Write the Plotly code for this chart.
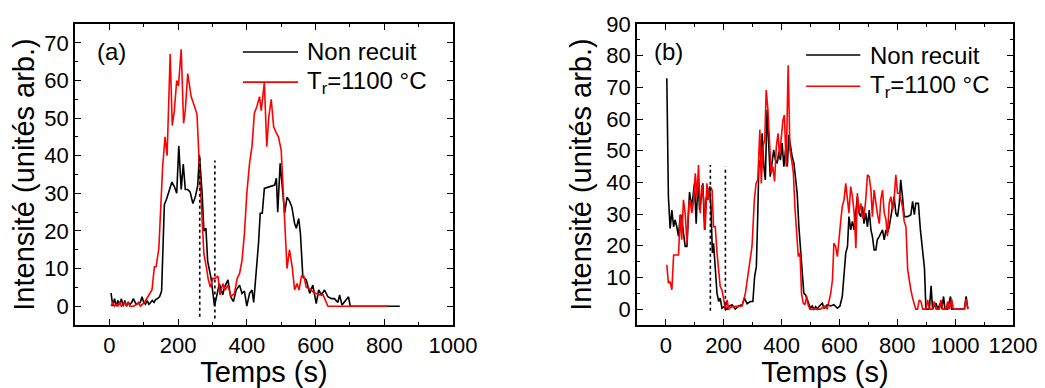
import plotly.graph_objects as go
from plotly.subplots import make_subplots

# ---------------- Data ----------------
# Panel (a): (temps [s], intensité [u.a.])
a_non_recuit = [(5,3.5),(10,0),(15,2),(20,0),(25,1.5),(30,0.5),(35,2),(40,0),(45,1.5),(50,0),
    (55,1),(60,0.5),(65,1),(70,2),(75,1),(80,0.5),(90,1),(95,2.5),(100,1),(105,0.5),(110,1.5),
    (115,0.5),(120,1),(125,1.5),(130,1),(135,1.8),(140,2),(146,2.5),(152,4),(160,27),(167,28.6),
    (182,33),(189,31.8),(196,30),(202,42.6),(209,31),(215,37.8),(221,31),(228,31),(235,30.4),
    (243,27.3),(250,29),(257,32),(262,40.2),(270,30),(275,20),(281,20.7),(286,12),(296,7.4),
    (306,0),(314,3.4),(320,6),(330,3),(335,5),(345,7),(353,2.5),(361,1.2),(369,4.3),(379,5.6),
    (386,3.4),(393,4),(400,0),(408,3.4),(415,4.3),(420,1),(427,7.8),(434,16.7),(439,24.7),
    (445,24.7),(451,31.3),(461,31.6),(471,31.8),(481,32.2),(486,34),(490,25),(497,38),(503,31.8),
    (510,24.7),(517,29),(524,28),(531,26.4),(539,22),(544,20.7),(551,23.3),(556,19.3),(563,7.8),
    (573,7),(583,3.4),(592,5.6),(602,0.7),(609,4.3),(617,3),(626,4.3),(636,2.5),(646,2),(655,2),
    (665,1),(670,3),(677,0.3),(685,1.2),(696,2.5),(701,0),(845,0)]

a_recuit_1100 = [(5,0),(10,1),(15,0),(20,0.5),(25,0),(30,1),(35,0),(40,0.5),(45,1),(50,0),(55,1),
    (60,0),(70,0),(80,0.5),(85,1),(90,0),(95,0.5),(102,1),(112,2.5),(118,3.4),(124,4.3),(131,10.5),
    (136,10.5),(144,15.4),(150,26.4),(155,37),(162,45),(168,40),(177,67),(183,48),(189,52),(196,60),
    (201,58.5),(209,68.3),(216,48.6),(221,52),(228,61.8),(238,55.7),(248,53),(255,51),(262,37),
    (267,28),(275,14),(282,10.5),(288,7),(294,5),(301,7.4),(308,7.4),(316,8),(322,3),(330,6),
    (337,4.3),(345,5.6),(354,2.5),(364,3.4),(372,7.4),(379,8.7),(386,12.2),(393,19.3),(400,30),
    (408,38),(415,42.4),(422,51.3),(429,53),(437,55.7),(442,52),(447,55.7),(451,59.5),(458,42.4),
    (464,50.4),(471,55),(478,47.7),(486,46),(492,45),(500,41.5),(510,23.8),(517,10),(524,15),
    (532,10.5),(539,4.3),(546,6),(552,4.3),(559,8),(566,8),(573,5),(583,4.7),(592,3.8),(602,3.4),
    (612,3),(622,3),(631,1),(636,0),(811,0)]

# Panel (b)
b_non_recuit = [(3.5,72.9),(9,35.5),(15,25.5),(21,31.3),(27,26),(32,28.2),(38,26),(44,23),(50,29.8),
    (55,29.2),(61,24),(67,19.8),(73,19.8),(82,37),(88,32.4),(94,35.5),(99,39.7),(105,27),(111,40.3),
    (117,31.3),(123,35.5),(128,39.7),(134,25),(140,35.5),(146,34.5),(151,38.7),(156,32.4),(161,17.7),
    (165,20.8),(171,11.4),(177,5),(183,2.4),(188,3.5),(194,0.3),(202,0.8),(212,0),(217,0.8),
    (229,1.4),(240,0),(252,1),(264,1.4),(272,3.5),(281,1.7),(292,2.4),(301,2.4),(307,10.3),
    (313,13.5),(318,30.3),(322,47),(327,45),(333,55.5),(339,45),(344,40.8),(350,62.9),(356,48),
    (361,41.8),(367,46),(373,50.3),(379,47),(385,46),(391,49.7),(396,47),(402,52.4),(408,45),
    (414,50.3),(420,45),(425,55),(431,51.3),(437,48),(443,46),(449,40.8),(454,36.6),(460,26),
    (466,17.7),(472,11.4),(477,5),(483,4.5),(489,2.9),(495,1.4),(500,0.3),(506,1),(512,0),
    (518,0.8),(524,0),(529,0.8),(541,1.9),(547,0.3),(558,1.4),(570,1),(581,1.4),(593,0.3),
    (602,1),(610,4),(616,11.4),(622,17.7),(628,19.8),(633,29.2),(639,25),(645,27.7),(651,25),
    (657,30.3),(662,35.5),(668,30.3),(674,29.2),(680,32.4),(685,27),(691,30.3),(697,26),
    (703,31.3),(709,25),(714,23),(720,18.7),(726,18.7),(731,21.9),(738,23),(743,24),(749,25),
    (755,21.9),(761,25),(766,24),(772,26),(778,29.2),(784,33.4),(789,35.5),(795,30.3),(801,29.2),
    (807,33.4),(812,40.8),(818,35.5),(824,29.2),(836,29.2),(847,29.8),(853,34),(859,29.8),
    (864,33.4),(873,33.4),(880,25),(888,17.7),(894,12.9),(899,0),(911,0),(917,7.4),(922,0),
    (934,1.9),(940,0),(949,1.9),(954,0),(960,4),(965,0),(974,0),(984,4),(988,0),(1032,0),
    (1038,4),(1044,0)]

b_recuit_1100 = [(3.5,14),(9,8.2),(15,8.7),(21,6.1),(27,17.1),(36,17.1),(44,17.1),(50,29.8),
    (55,21.9),(61,34.5),(67,30.3),(73,20.8),(79,32.4),(84,34.5),(90,30.3),(96,34),(102,42.9),
    (108,35.5),(113,45.5),(119,30.3),(125,39.2),(131,34.5),(136,25),(142,39.7),(148,34.5),
    (154,38.7),(160,37.6),(165,26),(171,26),(177,17.7),(183,11.4),(188,7.2),(194,6.1),(200,2.9),
    (206,0),(212,2.9),(217,0),(229,0.8),(246,1),(264,1),(275,5),(287,12.4),(298,19.8),(306,34.5),
    (312,39.7),(318,40.8),(325,56.6),(330,39.7),(336,51.3),(342,53.4),(347,69.2),(353,62.9),
    (358,52.4),(364,42.9),(370,45),(376,40.3),(382,51.3),(388,55.5),(393,48.2),(399,54.5),
    (405,59.7),(410,61.3),(416,45),(423,77),(429,50.3),(435,47),(441,42.9),(446,32.4),(452,24),
    (458,16.6),(464,17.7),(469,5),(475,1.9),(481,1.4),(487,4),(492,1.4),(498,0),(535,0),(547,1),
    (558,0),(570,5),(576,9.2),(581,20.8),(587,19.8),(593,16.6),(599,24),(605,28.2),(610,32.4),
    (616,34.5),(622,39.7),(628,34.5),(633,30.3),(639,38.7),(645,35.5),(651,30.3),(657,19.2),
    (662,36.6),(668,30.3),(674,33.4),(680,28.7),(685,29.2),(691,34.5),(697,42.4),(703,41.8),
    (709,37.6),(714,29.2),(720,37.6),(726,32.4),(731,30.3),(738,27),(743,34.5),(749,37.6),
    (755,30.3),(761,28.2),(766,23),(772,33.4),(778,35.5),(784,31.3),(789,34.5),(795,42.4),
    (801,36.6),(807,36.6),(812,34.5),(818,32.4),(824,27.7),(830,26),(836,12.4),(841,9.2),
    (847,6.1),(853,3.5),(859,1),(864,0),(870,0),(876,2.9),(882,2.4),(888,0),(899,0),(905,2.9),
    (911,0),(922,0),(928,2.4),(934,0),(945,0),(951,2.9),(957,0),(969,0),(974,2.4),(980,0),
    (988,3.2),(994,0),(1032,0),(1038,3.2),(1044,0)]

# Vertical dotted markers: (time, bottom, top)
a_markers = [(263, -2.8, 39.7), (307, -3.3, 38.7)]
b_markers = [(154, -0.5, 45.5), (206, -0.5, 45.0)]

x_ticks_a = [0, 200, 400, 600, 800, 1000]
x_ticks_b = [0, 200, 400, 600, 800, 1000, 1200]

series_names = ["Non recuit", "T<sub>r</sub>=1100 °C"]
series_colors = ["#000000", "#FF0000"]
panel_labels = ["(a)", "(b)"]

FONT = "Arial, 'Liberation Sans', sans-serif"
LINE_W = 1.6

# ---------------- Figure ----------------
fig = make_subplots(rows=1, cols=2, horizontal_spacing=0.196)

def add_panel(col, black, red, markers):
    for data, name, color in zip([black, red], series_names, series_colors):
        xs, ys = zip(*data)
        fig.add_trace(go.Scatter(x=list(xs), y=list(ys), mode="lines", name=name,
                                 line=dict(color=color, width=LINE_W), showlegend=False),
                      row=1, col=col)
    for (t, lo, hi) in markers:
        fig.add_trace(go.Scatter(x=[t, t], y=[lo, hi], mode="lines", showlegend=False,
                                 line=dict(color="black", width=1.6, dash="dot")), row=1, col=col)

add_panel(1, a_non_recuit, a_recuit_1100, a_markers)
add_panel(2, b_non_recuit, b_recuit_1100, b_markers)

axis_common = dict(showline=True, linecolor="black", linewidth=1.5, mirror="allticks",
                   ticks="inside", ticklen=6, tickwidth=1.3, tickcolor="black",
                   showgrid=False, zeroline=False, automargin=False,
                   tickfont=dict(family=FONT, size=22, color="black"),
                   minor=dict(ticks="inside", ticklen=3.5, tickwidth=1.1, tickcolor="black"))

fig.update_xaxes(**axis_common)
fig.update_yaxes(**axis_common)

title_font = dict(family=FONT, size=29, color="black")
fig.update_xaxes(range=[-100, 1000], tickvals=x_ticks_a, minor_dtick=100, minor_tick0=0,
                 title=dict(text="Temps (s)", font=title_font, standoff=2), row=1, col=1)
fig.update_xaxes(range=[-100, 1200], tickvals=x_ticks_b, minor_dtick=100, minor_tick0=0,
                 title=dict(text="Temps (s)", font=title_font, standoff=2), row=1, col=2)
fig.update_yaxes(range=[-5, 75], dtick=10, tick0=0, minor_dtick=5, minor_tick0=0,
                 title=dict(text="Intensité (unités arb.)", font=title_font, standoff=6), row=1, col=1)
fig.update_yaxes(range=[-5, 90], dtick=10, tick0=0, minor_dtick=5, minor_tick0=0,
                 title=dict(text="Intensité (unités arb.)", font=title_font, standoff=6), row=1, col=2)

fig.update_xaxes(domain=[0.0, 0.403], row=1, col=1)
fig.update_xaxes(domain=[0.599, 1.0], row=1, col=2)

# Legends drawn in axis-domain coordinates (line sample + label), plus panel labels
legend_pos = {
    1: dict(x0=0.444, x1=0.590, xt=0.608, ys=[0.907, 0.807], xref="x domain", yref="y domain"),
    2: dict(x0=0.450, x1=0.594, xt=0.614, ys=[0.897, 0.793], xref="x2 domain", yref="y2 domain"),
}
label_pos = {1: (0.052, 0.907), 2: (0.040, 0.907)}

shapes, annotations = [], []
legend_font = dict(family=FONT, size=24, color="black")
for col, p in legend_pos.items():
    for name, color, yy in zip(series_names, series_colors, p["ys"]):
        shapes.append(dict(type="line", xref=p["xref"], yref=p["yref"], x0=p["x0"], x1=p["x1"],
                           y0=yy, y1=yy, line=dict(color=color, width=LINE_W)))
        annotations.append(dict(text=name, xref=p["xref"], yref=p["yref"], x=p["xt"], y=yy,
                                xanchor="left", yanchor="middle", showarrow=False, font=legend_font))
    lx, ly = label_pos[col]
    annotations.append(dict(text=panel_labels[col - 1], xref=p["xref"], yref=p["yref"], x=lx, y=ly,
                            xanchor="left", yanchor="middle", showarrow=False,
                            font=dict(family=FONT, size=24, color="black")))

# The page body adds an 8 px offset, so the figure is 8 px smaller and margins shifted by 8 px.
fig.update_layout(
    width=1037, height=380,
    margin=dict(l=67, r=32, t=16, b=63),
    paper_bgcolor="white", plot_bgcolor="white",
    font=dict(family=FONT, color="black"),
    showlegend=False,
    shapes=shapes,
    annotations=annotations,
)

fig.write_html("out.html")
